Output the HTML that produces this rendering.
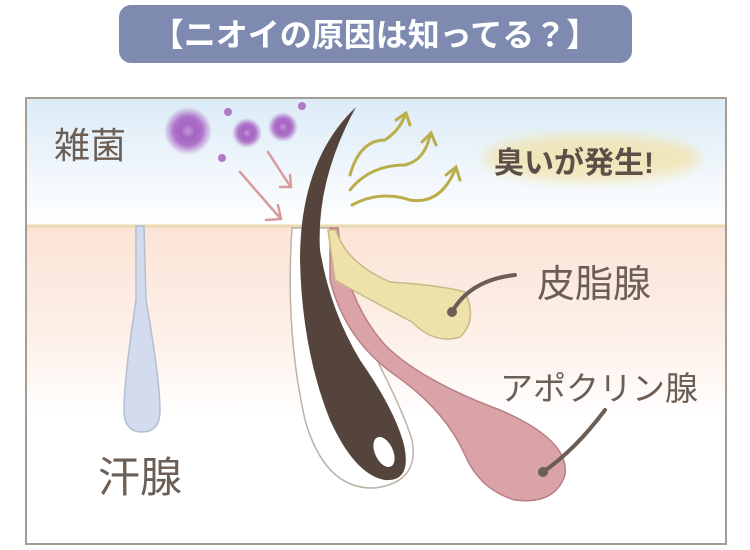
<!DOCTYPE html>
<html><head><meta charset="utf-8"><style>
body{margin:0;width:750px;height:550px;background:#fff;overflow:hidden;font-family:"Liberation Sans","Noto Sans CJK JP",sans-serif;}
</style></head><body>
<svg width="750" height="550" viewBox="0 0 750 550" xmlns="http://www.w3.org/2000/svg" style="position:absolute;left:0;top:0">
<defs>
<linearGradient id="sky" x1="0" y1="0" x2="0" y2="1"><stop offset="0" stop-color="#dcebf7"/><stop offset="1" stop-color="#ffffff"/></linearGradient>
<linearGradient id="skin" x1="0" y1="0" x2="0" y2="1"><stop offset="0" stop-color="#fbe3d6"/><stop offset="0.35" stop-color="#fdf0e8"/><stop offset="0.6" stop-color="#ffffff"/><stop offset="1" stop-color="#ffffff"/></linearGradient>
<radialGradient id="germ"><stop offset="0" stop-color="#c08ad6"/><stop offset="0.3" stop-color="#9a4cb8"/><stop offset="0.6" stop-color="#a45cc0"/><stop offset="1" stop-color="#a45cc0" stop-opacity="0"/></radialGradient>
<filter id="blur"><feGaussianBlur stdDeviation="6"/></filter>
</defs>
<rect x="119" y="5" width="513" height="58" rx="12" fill="#7e8aaf"/>
<text x="375" y="46" text-anchor="middle" font-size="32" font-weight="bold" fill="#fff" font-family="'Liberation Sans','Noto Sans CJK JP',sans-serif">【ニオイの原因は知ってる？】</text>
<rect x="26" y="98" width="700" height="128" fill="url(#sky)"/>
<rect x="26" y="226" width="700" height="318" fill="url(#skin)"/>
<line x1="26" y1="226" x2="726" y2="226" stroke="#e9d9b0" stroke-width="3"/>
<rect x="26" y="98" width="700" height="446" fill="none" stroke="#a39d94" stroke-width="2"/>
<!-- sweat gland -->
<path d="M136 226 L144 226 L146 300 Q160 380 160 410 Q160 432 142 432 Q124 432 124 410 Q124 380 136 300 Z" fill="#d2dcee" stroke="#b3bed3" stroke-width="1.5"/>
<!-- follicle white -->
<path d="M292 228 Q285 330 305 420 Q325 490 375 488 Q420 482 412 440 Q400 400 345 300 L334 228 Z" fill="#fff" stroke="#bcb2a8" stroke-width="1.5"/>
<!-- apocrine -->
<path d="M330 228 L338 228 Q345 300 385 345 Q420 380 500 410 Q570 440 565 475 Q555 505 515 500 Q480 490 465 455 Q445 410 395 375 Q345 340 330 280 Z" fill="#d9a3a7" stroke="#b87f85" stroke-width="1.5"/>
<!-- sebaceous -->
<path d="M328 230 L336 230 Q345 262 390 282 Q440 285 465 292 Q478 320 460 337 Q435 345 412 322 Q370 300 335 280 Z" fill="#efe1aa" stroke="#c9b987" stroke-width="1.5"/>
<!-- hair -->
<path d="M356 107 Q300 160 300 260 Q302 350 330 420 Q355 475 385 480 Q412 482 404 445 Q395 410 360 360 Q330 310 320 250 Q316 180 356 107 Z" fill="#54443b"/>
<ellipse cx="384" cy="452" rx="9" ry="16" transform="rotate(-25 384 452)" fill="#fff"/>
<!-- pointers -->
<path d="M452 312 Q470 280 515 275" fill="none" stroke="#6b5e55" stroke-width="4" stroke-linecap="round"/>
<circle cx="452" cy="312" r="5" fill="#6b5e55"/>
<path d="M543 472 Q575 450 605 410" fill="none" stroke="#6b5e55" stroke-width="4" stroke-linecap="round"/>
<circle cx="543" cy="472" r="5" fill="#6b5e55"/>
<!-- germs -->
<circle cx="188" cy="131" r="24" fill="url(#germ)" opacity="0.85"/>
<circle cx="247" cy="133" r="15" fill="url(#germ)" opacity="0.85"/>
<circle cx="283" cy="127" r="15" fill="url(#germ)" opacity="0.85"/>
<circle cx="228" cy="112" r="4" fill="#b07ac8"/>
<circle cx="302" cy="106" r="4" fill="#b07ac8"/>
<circle cx="222" cy="158" r="4" fill="#b07ac8"/>
<!-- arrows pink -->
<g stroke="#d89a9a" stroke-width="2.5" fill="none" stroke-linecap="round">
<path d="M240 172 L280 218"/><path d="M266 220 L281 219 L278 205"/>
<path d="M268 152 L290 186"/><path d="M280 187 L291 187 L290 175"/>
</g>
<!-- smell arrows -->
<g stroke="#b9ae4a" stroke-width="3" fill="none" stroke-linecap="round">
<path d="M350 175 Q360 140 385 140 Q400 130 405 115"/><path d="M396 120 L406 113 L410 125"/>
<path d="M350 190 Q370 165 405 165 Q425 160 430 135"/><path d="M422 142 L431 133 L436 145"/>
<path d="M352 205 Q380 190 410 200 Q440 205 455 170"/><path d="M446 175 L456 167 L460 180"/>
</g>
<ellipse cx="592" cy="158" rx="108" ry="24" fill="#f3dc8a" opacity="0.55" filter="url(#blur)"/>
<g font-family="'Liberation Sans','Noto Sans CJK JP',sans-serif">
<text x="494" y="173" font-size="30" font-weight="bold" fill="#5c4f47">臭いが発生!</text>
<text x="54" y="158" font-size="36" fill="#6b5e55">雑菌</text>
<text x="98" y="492" font-size="42" fill="#6b5e55">汗腺</text>
<text x="537" y="297" font-size="38" fill="#6b5e55">皮脂腺</text>
<text x="500" y="400" font-size="33" fill="#6b5e55">アポクリン腺</text>
</g>
</svg>
</body></html>
